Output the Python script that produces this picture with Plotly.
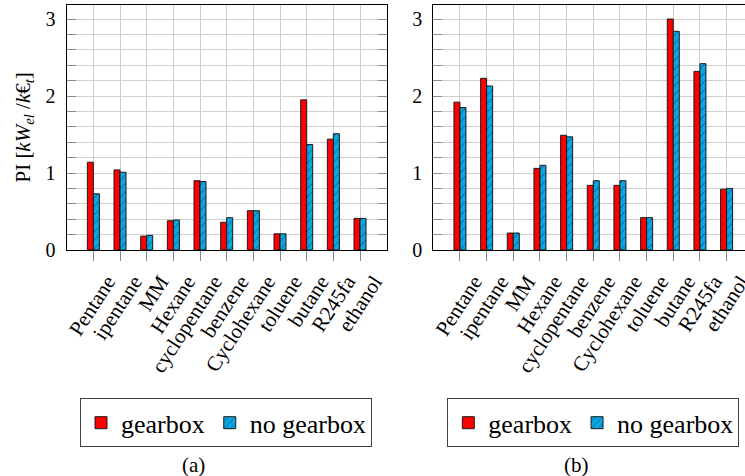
import plotly.graph_objects as go

categories = ["Pentane", "ipentane", "MM", "Hexane", "cyclopentane", "benzene",
              "Cyclohexane", "toluene", "butane", "R245fa", "ethanol"]
gearbox_a = [1.14, 1.04, 0.18, 0.38, 0.90, 0.36, 0.51, 0.21, 1.95, 1.44, 0.41]
nogearbox_a = [0.73, 1.01, 0.19, 0.39, 0.89, 0.42, 0.51, 0.21, 1.37, 1.51, 0.41]
gearbox_b = [1.92, 2.23, 0.22, 1.06, 1.49, 0.84, 0.84, 0.42, 3.00, 2.32, 0.79]
nogearbox_b = [1.85, 2.13, 0.22, 1.10, 1.47, 0.90, 0.90, 0.42, 2.84, 2.42, 0.80]
yticks = [0, 1, 2, 3]
series_names = ["gearbox", "no gearbox"]
captions = ["(a)", "(b)"]

W, H = 745, 476
FONT = "Liberation Serif, Times New Roman, Times, serif"
RED = "#FF0000"
BLUE = "#0AA5E3"
GRID = "#CFCFCF"
TICKC = "#8A8A8A"

xpos = list(range(len(categories)))

fig = go.Figure()

panels = [
    (gearbox_a, nogearbox_a, "x", "y", "legend"),
    (gearbox_b, nogearbox_b, "x2", "y2", "legend2"),
]
for g, ng, xa, ya, lg in panels:
    fig.add_trace(go.Bar(
        x=xpos, y=g, name=series_names[0], xaxis=xa, yaxis=ya, legend=lg,
        marker=dict(color=RED, line=dict(color="#1a1a1a", width=1)),
    ))
    fig.add_trace(go.Bar(
        x=xpos, y=ng, name=series_names[1], xaxis=xa, yaxis=ya, legend=lg,
        marker=dict(color=BLUE, line=dict(color="#1a1a1a", width=1),
                    pattern=dict(shape="/", fgcolor="#111111", bgcolor=BLUE,
                                 size=6, solidity=0.15)),
    ))

ydom = [1 - 250 / H, 1 - 4.7 / H]
yrange = [0, 3.186]

common_x = dict(
    tickvals=xpos, ticktext=categories, tickangle=-57,
    ticks="outside", ticklen=10, tickcolor=TICKC, tickwidth=1,
    showgrid=True, gridcolor=GRID, gridwidth=1,
    showline=True, linecolor="black", linewidth=1.2, mirror=True,
    zeroline=False, tickfont=dict(family=FONT, size=21, color="black"),
    automargin=False, ticklabelshift=14, ticklabelstandoff=0,
    ticklabeloverflow="allow",
)
common_y = dict(
    range=yrange, domain=ydom, tickvals=yticks,
    ticks="inside", ticklen=9, tickcolor=TICKC, tickwidth=1,
    showgrid=True, gridcolor=GRID, gridwidth=1,
    showline=True, linecolor="black", linewidth=1.2,
    zeroline=False, tickfont=dict(family=FONT, size=20, color="black"),
    ticklabelstandoff=6, automargin=False,
    minor=dict(dtick=0.2, tick0=0, ticks="inside", ticklen=9, tickcolor=TICKC,
               showgrid=True, gridcolor=GRID, gridwidth=1),
)

legend_common = dict(
    y=1 - 398.3 / H, xanchor="left", yanchor="top", xref="paper", yref="paper",
    orientation="h", bordercolor="#404040", borderwidth=1,
    bgcolor="white", font=dict(family=FONT, size=26, color="black"), itemwidth=30,
)

fig.update_layout(
    width=W, height=H,
    margin=dict(l=0, r=0, t=0, b=0, autoexpand=False),
    paper_bgcolor="white", plot_bgcolor="white",
    font=dict(family=FONT, size=20, color="black"),
    barmode="group", bargap=0.55, bargroupgap=0,
    xaxis=dict(domain=[66.7 / W, 386.7 / W], range=[-1, 11], anchor="y", **common_x),
    xaxis2=dict(domain=[433.3 / W, 1.0], range=[-1, 10.69], anchor="y2", **common_x),
    yaxis=dict(anchor="x", mirror="ticks",
               title=dict(text="PI [<i>kW</i><sub><i>el</i></sub> /<i>k</i>€<sub><i>t</i></sub>]",
                          font=dict(family=FONT, size=21), standoff=9),
               **common_y),
    yaxis2=dict(anchor="x2", mirror=False, **common_y),
    legend=dict(x=80 / W, **legend_common),
    legend2=dict(x=447.3 / W, **legend_common),
)

for cap, cx in zip(captions, [193 / W, 576.7 / W]):
    fig.add_annotation(text=cap, x=cx, y=1 - 465 / H, xref="paper", yref="paper",
                       xanchor="center", yanchor="middle", showarrow=False,
                       font=dict(family=FONT, size=21, color="black"))

fig.write_html("out.html")
